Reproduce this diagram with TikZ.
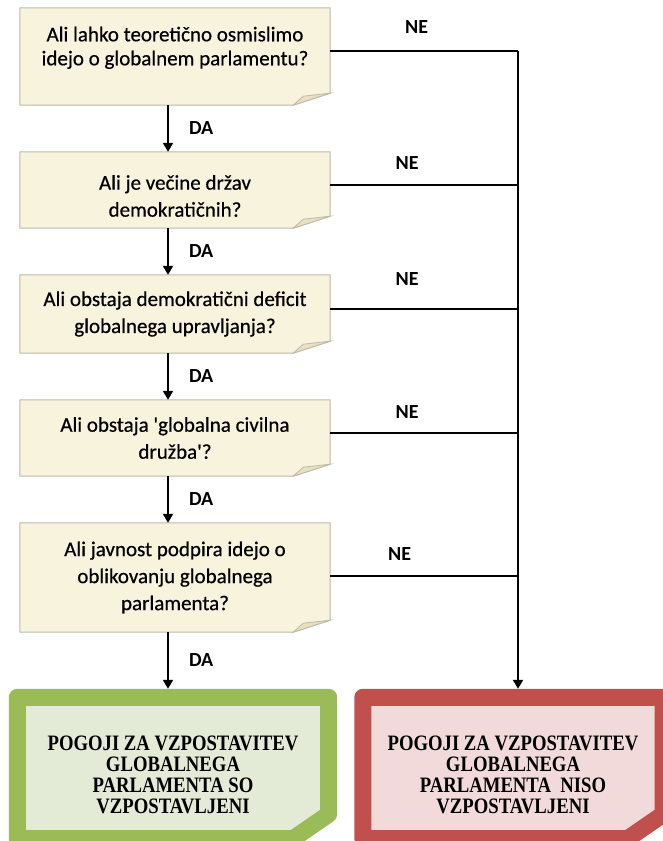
\documentclass[tikz,border=0pt]{standalone}
\usepackage{fontspec}
\setmainfont{Carlito}
\newfontfamily\askfont[FakeBold=0.5]{Carlito}
\newfontfamily\verdictfont[FakeStretch=0.85]{Liberation Serif}
\usetikzlibrary{arrows.meta,backgrounds}
\definecolor{qfill}{RGB}{248,243,221}
\definecolor{qedge}{RGB}{190,184,166}
\definecolor{qfold}{RGB}{232,224,190}
\definecolor{okedge}{RGB}{155,187,89}
\definecolor{okface}{RGB}{227,234,214}
\definecolor{noedge}{RGB}{192,80,77}
\definecolor{noface}{RGB}{242,218,218}

\begin{document}
\begin{tikzpicture}[x=1pt, y=-1pt,
  question/.style={rectangle, minimum width=310pt, align=center, inner sep=0pt,
    font=\askfont\fontsize{21}{27}\selectfont},
  verdict/.style={rectangle, minimum height=158pt, align=center, inner sep=0pt,
    font=\verdictfont\bfseries\fontsize{22}{21}\selectfont},
  flow/.style={line width=2pt, -{Triangle[length=9pt,width=10pt]}},
  wire/.style={line width=2pt},
  answer/.style={font=\bfseries\fontsize{20}{22}\selectfont, inner sep=2pt}]
  \useasboundingbox (0,0) rectangle (662,841);

  % questions
  \node[question, minimum height=97pt, text depth=21pt, font=\askfont\fontsize{21}{24}\selectfont] (q1) at (175,56.5) {Ali lahko teoretično osmislimo\\idejo o globalnem parlamentu?};
  \node[question, minimum height=76pt, text height=53.5pt] (q2) at (175,190) {Ali je večine držav\\demokratičnih?};
  \node[question, minimum height=78pt] (q3) at (175,314) {Ali obstaja demokratični deficit\\globalnega upravljanja?};
  \node[question, minimum height=76pt] (q4) at (175,438) {Ali obstaja 'globalna civilna\\družba'?};
  \node[question, minimum height=109pt] (q5) at (175,577.5) {Ali javnost podpira idejo o\\oblikovanju globalnega\\parlamenta?};

  % outcomes
  \node[verdict, minimum width=328pt, text height=92pt] (yes) at (173,768) {POGOJI ZA VZPOSTAVITEV\\GLOBALNEGA\\PARLAMENTA SO\\VZPOSTAVLJENI};
  \node[verdict, minimum width=317pt, text height=92pt] (no) at (513,768) {POGOJI ZA VZPOSTAVITEV\\GLOBALNEGA\\PARLAMENTA~ NISO\\VZPOSTAVLJENI};

  \begin{scope}[on background layer]
    \foreach \q in {q1,q2,q3,q4,q5} {
      \filldraw[fill=qfill, draw=qedge, line width=1pt] (\q.north west) -- (\q.north east) -- ([yshift=12pt]\q.south east) -- ([xshift=-37pt]\q.south east) -- (\q.south west) -- cycle;
      \filldraw[fill=qfold, draw=qedge, line width=0.8pt] ([xshift=-37pt]\q.south east) -- ([yshift=12pt]\q.south east) -- ([xshift=-27pt,yshift=9pt]\q.south east) -- cycle;
    }
    \foreach \v/\edge/\face in {yes/okedge/okface, no/noedge/noface} {
      \filldraw[fill=\face, draw=\edge, line width=17pt, line join=round] ([xshift=8.5pt,yshift=-8.5pt]\v.north west) -- ([xshift=-8.5pt,yshift=-8.5pt]\v.north east) -- ([xshift=-8.5pt,yshift=33pt]\v.south east) -- ([xshift=-44pt,yshift=8.5pt]\v.south east) -- ([xshift=8.5pt,yshift=8.5pt]\v.south west) -- cycle;
    }
  \end{scope}

  % DA
  \foreach \a/\b in {q1/q2,q2/q3,q3/q4,q4/q5,q5/yes}
    \draw[flow] ([xshift=-7pt]\a.south) -- ([xshift=-7pt]\a.south |- \b.north) node[answer, midway, right=18pt] {DA};

  % NE
  \foreach \q/\y/\p/\d in {q1/51/.46/15pt, q2/185/.41/13pt, q3/309/.41/21pt, q4/433/.41/12pt, q5/576/.37/13pt} {
    \coordinate (t\q) at (518,\y);
    \draw[wire] (\q.east |- t\q) -- (t\q) node[answer, pos=\p, above=\d] {NE};
  }
  \draw[flow] (tq1) -- (tq1 |- no.north);
\end{tikzpicture}
\end{document}
